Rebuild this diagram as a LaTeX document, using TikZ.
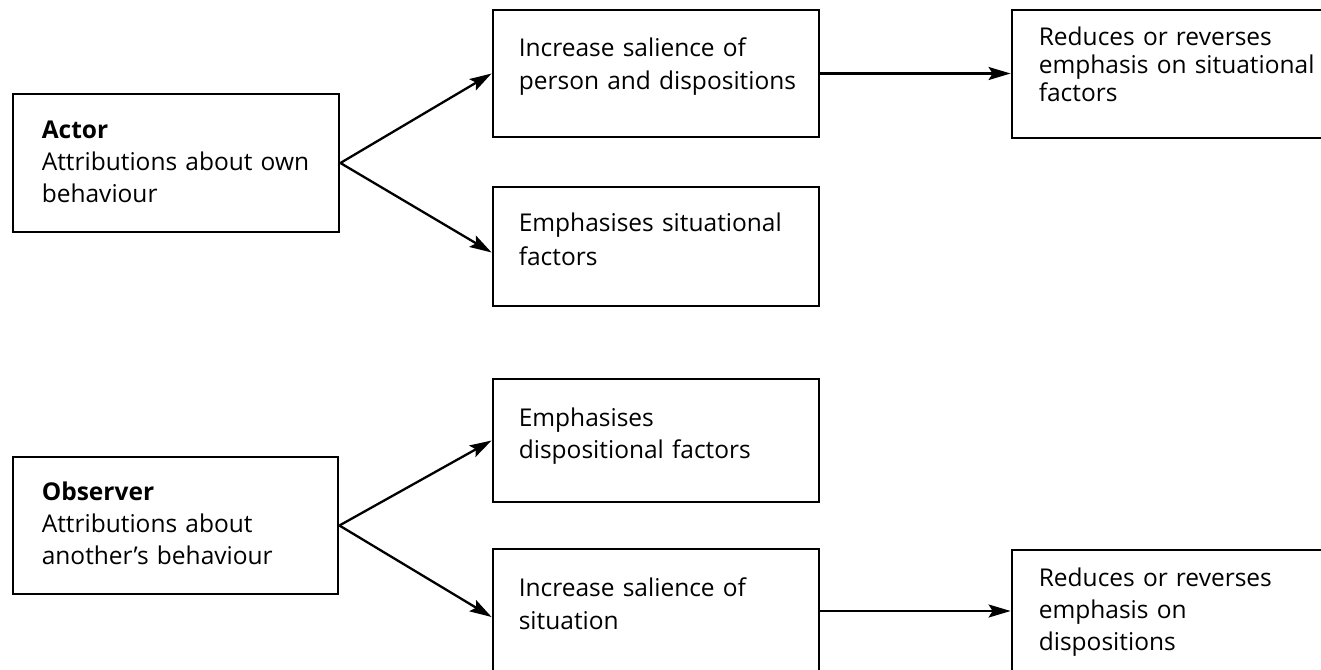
\documentclass[tikz,border=0pt]{standalone}
\usepackage{fontspec}
\setmainfont{Open Sans}
\usetikzlibrary{arrows.meta,calc}
\begin{document}
\begin{tikzpicture}[x=1pt,y=-1pt,
  box/.style={draw=black, line width=2.8pt, fill=white, rectangle, inner sep=0pt},
  lbl/.style={anchor=base west, inner sep=0pt, text width=300pt, align=left,
              font=\fontsize{24.5}{#1}\selectfont},
  link/.style={line width=2.3pt, -{Stealth[length=22pt,width=13pt,inset=4pt]}}]
\useasboundingbox (0,0) rectangle (1321,669);
\clip (0,0) rectangle (1321,669);

% left-hand sources
\node[box, minimum width=326pt, minimum height=138pt] (actor)    at (176,163)   {};
\node[box, minimum width=325pt, minimum height=137pt] (observer) at (175.5,525.5) {};

% middle column
\node[box, minimum width=326pt, minimum height=127pt] (inc1)   at (656,73.5)  {};
\node[box, minimum width=326pt, minimum height=119pt] (emsit)  at (656,246.5) {};
\node[box, minimum width=326pt, minimum height=123pt] (emdisp) at (656,440.5) {};
\node[box, minimum width=326pt, minimum height=124pt] (inc2)   at (656,611)   {};

% right column
\node[box, minimum width=333pt, minimum height=128pt] (red1) at (1178.5,74)  {};
\node[box, minimum width=333pt, minimum height=122pt] (red2) at (1178.5,611) {};

% box texts
\node[lbl=32] (actor-t) at ($(actor.north west)+(30,46)$)
  {\textbf{Actor}\\Attributions about own\\behaviour};
\node[lbl=32] (observer-t) at ($(observer.north west)+(30,45)$)
  {\textbf{Observer}\\Attributions about\\another’s behaviour};
\node[lbl=33] (inc1-t) at ($(inc1.north west)+(27,48)$)
  {Increase salience of\\person and dispositions};
\node[lbl=34] (emsit-t) at ($(emsit.north west)+(27,46)$)
  {Emphasises situational\\factors};
\node[lbl=32] (emdisp-t) at ($(emdisp.north west)+(27,49)$)
  {Emphasises\\dispositional factors};
\node[lbl=33] (inc2-t) at ($(inc2.north west)+(27,49)$)
  {Increase salience of\\situation};
\node[lbl=28] (red1-t) at ($(red1.north west)+(28,37)$)
  {Reduces or reverses\\emphasis on situational\\factors};
\node[lbl=32] (red2-t) at ($(red2.north west)+(28,38)$)
  {Reduces or reverses\\emphasis on\\dispositions};

% connectors
\draw[link] (actor.east) -- (inc1.west);
\draw[link] (actor.east) -- ([yshift=-6pt]emsit.west);
\draw[link] (observer.east) -- (emdisp.west);
\draw[link] (observer.east) -- ([yshift=-6pt]inc2.west);
\draw[link] (inc1.east) -- (inc1.east -| red1.west);
\draw[link] (inc2.east) -- (red2.west);
\end{tikzpicture}
\end{document}
